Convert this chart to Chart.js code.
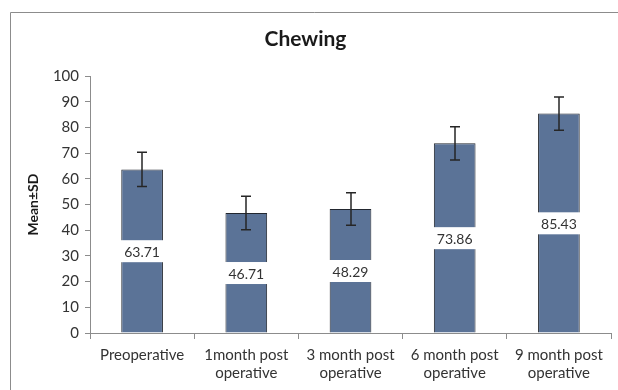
<!DOCTYPE html>
<html>
<head>
<meta charset="utf-8">
<script src="https://cdn.jsdelivr.net/npm/chart.js@4.4.1/dist/chart.umd.min.js"></script>
<style>
  html, body { margin: 0; padding: 0; background: #fff; }
  #wrap { width: 618px; height: 390px; position: relative; }
</style>
</head>
<body>
<div id="wrap"><canvas id="chewChart" width="618" height="390"></canvas></div>
<script>
// --- DATA ---
const categories = [
    ['Preoperative'],
    ['1month post', 'operative'],
    ['3 month post', 'operative'],
    ['6 month post', 'operative'],
    ['9 month post', 'operative']
];
const meanValues = [63.71, 46.71, 48.29, 73.86, 85.43];
const sdValues = [6.7, 6.5, 6.3, 6.5, 6.5];
const yTicks = [0, 10, 20, 30, 40, 50, 60, 70, 80, 90, 100];

const FONT = 'Lato, "Open Sans", sans-serif';

// grey frame round the chart (cut off on right/bottom like the original)
const framePlugin = {
    id: 'frame',
    beforeDraw(chart) {
        const ctx = chart.ctx;
        ctx.save();
        ctx.strokeStyle = '#8c8c8c';
        ctx.lineWidth = 1;
        ctx.beginPath();
        ctx.moveTo(10.5, 390);
        ctx.lineTo(10.5, 12.5);
        ctx.lineTo(618, 12.5);
        ctx.stroke();
        ctx.restore();
    }
};

// SD error bars
const errorBarPlugin = {
    id: 'errorBars',
    afterDatasetsDraw(chart) {
        const ctx = chart.ctx;
        const y = chart.scales.y;
        const meta = chart.getDatasetMeta(0);
        ctx.save();
        ctx.strokeStyle = '#262626';
        ctx.lineWidth = 1.5;
        meta.data.forEach((bar, i) => {
            const x = Math.round(bar.x);
            const top = y.getPixelForValue(meanValues[i] + sdValues[i]);
            const bot = y.getPixelForValue(meanValues[i] - sdValues[i]);
            ctx.beginPath();
            ctx.moveTo(x, top); ctx.lineTo(x, bot);
            ctx.moveTo(x - 5, top); ctx.lineTo(x + 5, top);
            ctx.moveTo(x - 5, bot); ctx.lineTo(x + 5, bot);
            ctx.stroke();
        });
        ctx.restore();
    }
};

// white value boxes in the middle of each bar
const valueLabelPlugin = {
    id: 'valueLabels',
    afterDatasetsDraw(chart) {
        const ctx = chart.ctx;
        const y = chart.scales.y;
        const meta = chart.getDatasetMeta(0);
        ctx.save();
        ctx.font = '14px ' + FONT;
        ctx.textAlign = 'center';
        ctx.textBaseline = 'middle';
        meta.data.forEach((bar, i) => {
            const cy = y.getPixelForValue(meanValues[i] / 2);
            const w = bar.width + 4;
            ctx.fillStyle = '#ffffff';
            ctx.fillRect(bar.x - w / 2, cy - 11, w, 22);
            ctx.fillStyle = '#333333';
            ctx.fillText(meanValues[i].toFixed(2), bar.x, cy + 1);
        });
        ctx.restore();
    }
};

const ctx = document.getElementById('chewChart').getContext('2d');
new Chart(ctx, {
    type: 'bar',
    data: {
        labels: categories,
        datasets: [{
            data: meanValues,
            backgroundColor: '#5b7397',
            borderColor: '#22272f',
            borderWidth: 1,
            categoryPercentage: 1,
            barPercentage: 0.4
        }]
    },
    options: {
        responsive: false,
        animation: false,
        layout: { padding: { left: 0, right: 7, top: 0, bottom: 4 } },
        plugins: {
            legend: { display: false },
            tooltip: { enabled: false },
            title: {
                display: true,
                text: 'Chewing',
                color: '#1a1a1a',
                font: { family: FONT, size: 21, weight: 'bold' },
                padding: { top: 27, bottom: 24 }
            }
        },
        scales: {
            y: {
                min: 0,
                max: 100,
                afterBuildTicks(scale) { scale.ticks = yTicks.map(v => ({ value: v })); },
                afterFit(scale) { scale.width = 90; },
                ticks: {
                    color: '#333333',
                    font: { family: FONT, size: 15 },
                    padding: 6
                },
                grid: {
                    drawOnChartArea: false,
                    color: '#8c8c8c',
                    tickLength: 5
                },
                border: { color: '#8c8c8c' },
                title: {
                    display: true,
                    text: 'Mean±SD',
                    color: '#1a1a1a',
                    font: { family: FONT, size: 14, weight: 'bold' },
                    padding: { top: 25, bottom: 0 }
                }
            },
            x: {
                afterFit(scale) { scale.height = 53; },
                ticks: {
                    color: '#333333',
                    font: { family: FONT, size: 15 },
                    padding: 7,
                    maxRotation: 0
                },
                grid: {
                    drawOnChartArea: false,
                    offset: true,
                    color: '#8c8c8c',
                    tickLength: 6
                },
                border: { color: '#8c8c8c' }
            }
        }
    },
    plugins: [framePlugin, errorBarPlugin, valueLabelPlugin]
});
</script>
</body>
</html>
